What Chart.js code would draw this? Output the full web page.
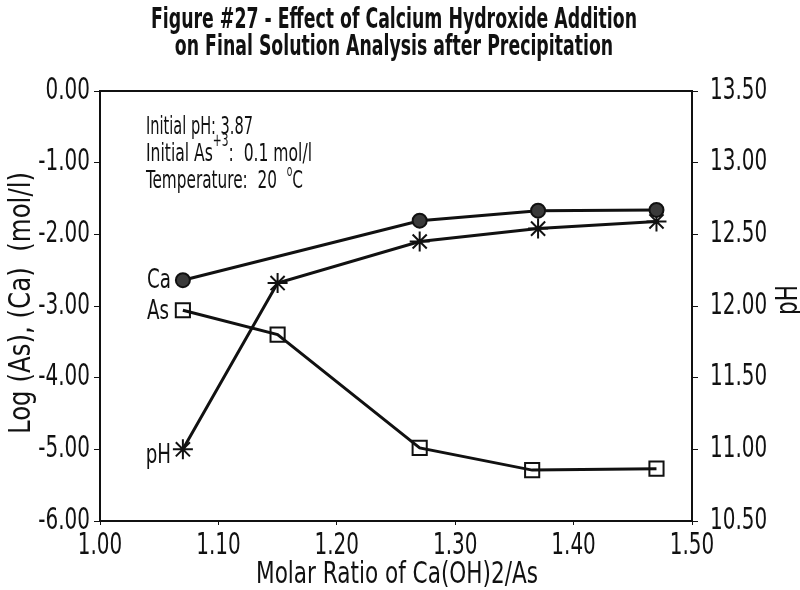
<!DOCTYPE html>
<html>
<head>
<meta charset="utf-8">
<script src="https://cdn.jsdelivr.net/npm/chart.js@4/dist/chart.umd.min.js"></script>
<style>
  body { margin: 0; background: #fff; }
  canvas { display: block; }
</style>
</head>
<body>
<canvas id="chart" width="800" height="590"></canvas>
<script>
// values
var caX = [1.07, 1.27, 1.37, 1.47];
var caLog = [-2.64, -1.81, -1.67, -1.66];
var asX = [1.07, 1.15, 1.27, 1.365, 1.47];
var asLog = [-3.06, -3.40, -4.98, -5.29, -5.27];
var phX = [1.07, 1.15, 1.27, 1.37, 1.47];
var phVal = [11.0, 12.16, 12.45, 12.54, 12.59];

var titleLines = ['Figure #27 - Effect of Calcium Hydroxide Addition', 'on Final Solution Analysis after Precipitation'];
var FONT = '"DejaVu Sans Condensed", "DejaVu Sans", sans-serif';
var INK = '#111';

function pts(xs, ys) {
    return xs.map(function (x, i) { return { x: x, y: ys[i] }; });
}

// the scan uses a very condensed font, so squeeze text horizontally
function squeezed(ctx, text, x, y, font, sx, align) {
    ctx.save();
    ctx.font = font;
    ctx.textAlign = align || 'left';
    ctx.textBaseline = 'middle';
    ctx.translate(x, y);
    ctx.scale(sx, 1);
    ctx.fillText(text, 0, 0);
    ctx.restore();
}

function fitTo(ctx, text, font, width) {
    ctx.font = font;
    return width / ctx.measureText(text).width;
}

// a line made of pieces (for super scripts), squeezed to a given width
function run(ctx, pieces, x, y, width) {
    var total = 0;
    pieces.forEach(function (p) { ctx.font = p[1]; total += ctx.measureText(p[0]).width; });
    var sx = width / total;
    pieces.forEach(function (p) {
        squeezed(ctx, p[0], x, y + (p[2] || 0), p[1], sx);
        ctx.font = p[1];
        x += ctx.measureText(p[0]).width * sx;
    });
}

var textPlugin = {
    id: 'texts',
    afterDraw: function (chart) {
        var ctx = chart.ctx;
        var a = chart.chartArea;
        ctx.save();
        ctx.fillStyle = INK;
        ctx.strokeStyle = INK;

        // frame
        ctx.lineWidth = 2;
        ctx.strokeRect(a.left, a.top, a.right - a.left, a.bottom - a.top);

        // tick labels
        var tf = '30px ' + FONT;
        var tsx = 0.74;
        chart.scales.y.ticks.forEach(function (t) {
            squeezed(ctx, t.value.toFixed(2), 90, chart.scales.y.getPixelForValue(t.value), tf, tsx, 'right');
        });
        chart.scales.y2.ticks.forEach(function (t) {
            squeezed(ctx, t.value.toFixed(2), 710, chart.scales.y2.getPixelForValue(t.value), tf, tsx, 'left');
        });
        chart.scales.x.ticks.forEach(function (t) {
            squeezed(ctx, t.value.toFixed(2), chart.scales.x.getPixelForValue(t.value), 546, tf, tsx, 'center');
        });

        // title
        var bf = 'bold 29px ' + FONT;
        var s1 = fitTo(ctx, titleLines[0], bf, 486);
        squeezed(ctx, titleLines[0], 394, 20, bf, s1, 'center');
        squeezed(ctx, titleLines[1], 394, 47, bf, s1, 'center');

        // axis titles
        var af = '30px ' + FONT;
        var xt = 'Molar Ratio of Ca(OH)2/As';
        squeezed(ctx, xt, 397, 575, af, fitTo(ctx, xt, af, 282), 'center');
        var yt = 'Log (As), (Ca)  (mol/l)';
        ctx.save();
        ctx.translate(22, 303);
        ctx.rotate(-Math.PI / 2);
        squeezed(ctx, yt, 0, 0, af, fitTo(ctx, yt, af, 262), 'center');
        ctx.restore();
        ctx.save();
        ctx.translate(789, 300);
        ctx.rotate(-Math.PI / 2);
        squeezed(ctx, 'pH', 0, 0, af, 0.8, 'center');
        ctx.restore();

        // series labels
        var lf = '26px ' + FONT;
        squeezed(ctx, 'Ca', 171, 281, lf, 0.78, 'right');
        squeezed(ctx, 'As', 169, 312, lf, 0.78, 'right');
        squeezed(ctx, 'pH', 171, 456, lf, 0.78, 'right');

        // conditions
        var cf = '25px ' + FONT;
        run(ctx, [['Initial pH: 3.87', cf]], 146, 127, 107);
        run(ctx, [['Initial As', cf], ['+3', '17px ' + FONT, -12], [':  0.1 mol/l', cf]], 146, 154, 166);
        run(ctx, [['Temperature:  20  ', cf], ['o', '15px ' + FONT, -9], ['C', cf]], 146, 181, 157);
        ctx.restore();
    }
};

var hidden = 'rgba(0,0,0,0)';
var tickFont = { family: FONT, size: 22 };

new Chart(document.getElementById('chart'), {
    type: 'scatter',
    data: {
        datasets: [
            {
                label: 'Ca',
                data: pts(caX, caLog),
                yAxisID: 'y',
                showLine: true,
                borderColor: INK,
                borderWidth: 3,
                pointStyle: 'circle',
                pointRadius: 7,
                pointBackgroundColor: '#3a3a3a',
                pointBorderColor: INK,
                pointBorderWidth: 2
            },
            {
                label: 'As',
                data: pts(asX, asLog),
                yAxisID: 'y',
                showLine: true,
                borderColor: INK,
                borderWidth: 3,
                pointStyle: 'rect',
                pointRadius: 10,
                pointBackgroundColor: hidden,
                pointBorderColor: INK,
                pointBorderWidth: 2
            },
            {
                label: 'pH',
                data: pts(phX, phVal),
                yAxisID: 'y2',
                showLine: true,
                borderColor: INK,
                borderWidth: 3,
                pointStyle: 'star',
                pointRadius: 10,
                pointBorderColor: INK,
                pointBorderWidth: 2
            }
        ]
    },
    options: {
        responsive: false,
        animation: false,
        layout: { padding: { top: 91, left: 0, right: 0, bottom: 0 } },
        plugins: {
            legend: { display: false },
            title: { display: false },
            tooltip: { enabled: false }
        },
        scales: {
            x: {
                type: 'linear',
                min: 1.0,
                max: 1.5,
                afterFit: function (s) { s.height = 69; },
                border: { color: INK, width: 2 },
                grid: { drawOnChartArea: false, tickLength: 4, color: INK },
                ticks: { stepSize: 0.1, color: hidden, maxRotation: 0, font: tickFont }
            },
            y: {
                position: 'left',
                min: -6,
                max: 0,
                afterFit: function (s) { s.width = 100; },
                border: { color: INK, width: 2 },
                grid: { drawOnChartArea: false, tickLength: 6, color: INK },
                ticks: { stepSize: 1, color: hidden, font: tickFont }
            },
            y2: {
                position: 'right',
                min: 10.5,
                max: 13.5,
                afterFit: function (s) { s.width = 108; },
                border: { color: INK, width: 2 },
                grid: { drawOnChartArea: false, tickLength: 6, color: INK },
                ticks: { stepSize: 0.5, color: hidden, font: tickFont }
            }
        }
    },
    plugins: [textPlugin]
});
</script>
</body>
</html>
